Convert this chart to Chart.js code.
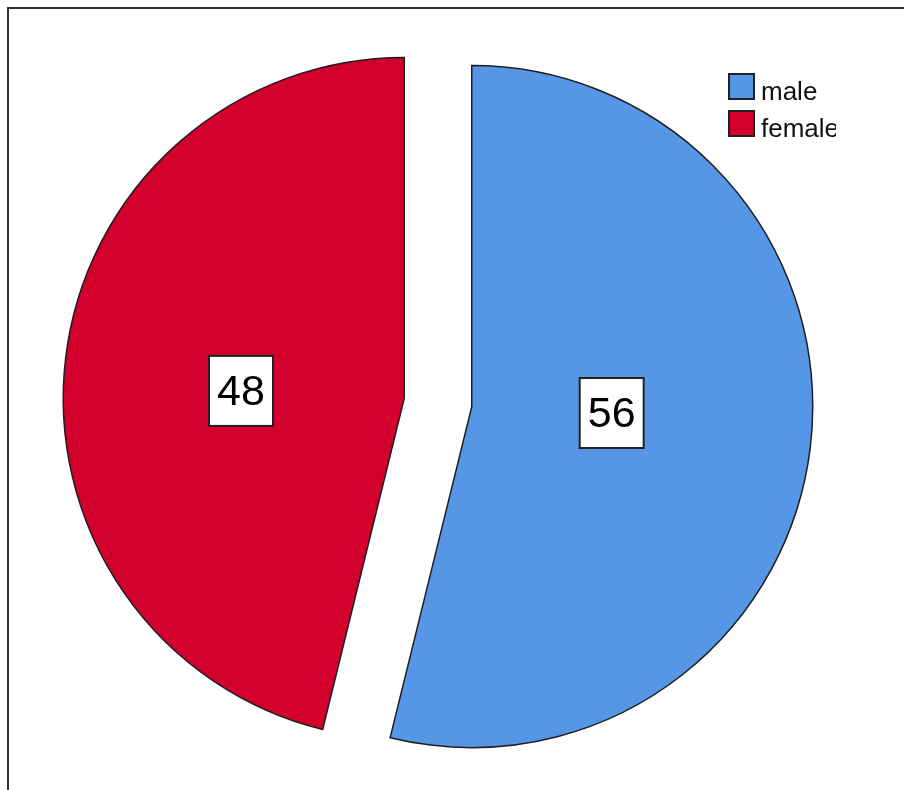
<!DOCTYPE html>
<html>
<head>
<meta charset="utf-8">
<script src="https://cdn.jsdelivr.net/npm/chart.js@4.4.1/dist/chart.umd.min.js"></script>
<style>
  html, body { margin: 0; padding: 0; background: #fff; }
  #wrap { width: 904px; height: 790px; }
</style>
</head>
<body>
<div id="wrap"><canvas id="genderPie" width="904" height="790"></canvas></div>
<script>
// gender counts
const categories = ['male', 'female'];
const counts = [56, 48];
const sliceColors = ['#5596e6', '#d3002d'];

const FONT = '"Liberation Sans", Arial, sans-serif';

// white page + the left/top frame lines
const frame = {
  id: 'frame',
  beforeDraw(chart) {
    const { ctx, width, height } = chart;
    ctx.save();
    ctx.fillStyle = '#fff';
    ctx.fillRect(0, 0, width, height);
    ctx.strokeStyle = '#333';
    ctx.lineWidth = 2;
    ctx.beginPath();
    ctx.moveTo(8, height);
    ctx.lineTo(8, 8);
    ctx.lineTo(width, 8);
    ctx.stroke();
    ctx.restore();
  }
};

// pull every slice out along its bisector, keeping the radius and the
// straight edges (the built-in offset also grows and narrows the arc)
const explode = {
  id: 'explode',
  afterDatasetsUpdate(chart, args, opts) {
    const d = opts.distance || 0;
    chart.getDatasetMeta(0).data.forEach(arc => {
      const mid = (arc.startAngle + arc.endAngle) / 2;
      arc.x += Math.cos(mid) * d;
      arc.y += Math.sin(mid) * d;
    });
  }
};

// boxed count labels inside each slice
const sliceLabels = {
  id: 'sliceLabels',
  afterDatasetsDraw(chart) {
    const ctx = chart.ctx;
    const meta = chart.getDatasetMeta(0);
    const values = chart.data.datasets[0].data;
    meta.data.forEach((arc, i) => {
      const half = (arc.endAngle - arc.startAngle) / 2;
      const mid = arc.startAngle + half;
      // a bit past the sector centroid
      const dist = 1.05 * 2 * arc.outerRadius * Math.sin(half) / (3 * half);
      const ang = mid - 0.075;
      const cx = arc.x + Math.cos(ang) * dist;
      const cy = arc.y + Math.sin(ang) * dist;
      const w = 64, h = 70;
      ctx.save();
      ctx.fillStyle = '#fff';
      ctx.strokeStyle = '#222';
      ctx.lineWidth = 2;
      ctx.fillRect(cx - w / 2, cy - h / 2, w, h);
      ctx.strokeRect(cx - w / 2, cy - h / 2, w, h);
      ctx.fillStyle = '#000';
      ctx.font = '43px ' + FONT;
      ctx.textAlign = 'center';
      ctx.textBaseline = 'middle';
      ctx.fillText(String(values[i]), cx, cy + 2);
      ctx.restore();
    });
  }
};

// legend column in the top right corner, cut off on the right like the box it sits in
const cornerLegend = {
  id: 'cornerLegend',
  afterDraw(chart) {
    const ctx = chart.ctx;
    const ds = chart.data.datasets[0];
    ctx.save();
    ctx.beginPath();
    ctx.rect(700, 60, 136, 100);
    ctx.clip();
    chart.data.labels.forEach((label, i) => {
      const top = 74 + i * 37;
      ctx.fillStyle = ds.backgroundColor[i];
      ctx.fillRect(729, top, 25, 25);
      ctx.strokeStyle = '#222';
      ctx.lineWidth = 2;
      ctx.strokeRect(729, top, 25, 25);
      ctx.fillStyle = '#111';
      ctx.font = '26px ' + FONT;
      ctx.textAlign = 'left';
      ctx.textBaseline = 'alphabetic';
      ctx.fillText(label, 761, top + 26);
    });
    ctx.restore();
  }
};

const ctx = document.getElementById('genderPie').getContext('2d');
const genderPie = new Chart(ctx, {
  type: 'pie',
  data: {
    labels: categories,
    datasets: [{
      data: counts,
      backgroundColor: sliceColors,
      borderColor: '#1e1e1e',
      borderWidth: 1.5,
      borderJoinStyle: 'miter'
    }]
  },
  options: {
    responsive: false,
    devicePixelRatio: 1,
    animation: false,
    radius: 341,
    layout: { padding: { left: 0, right: 28, top: 15, bottom: 0 } },
    plugins: {
      legend: { display: false },
      tooltip: { enabled: false },
      explode: { distance: 34 }
    }
  },
  plugins: [frame, explode, sliceLabels, cornerLegend]
});
</script>
</body>
</html>
